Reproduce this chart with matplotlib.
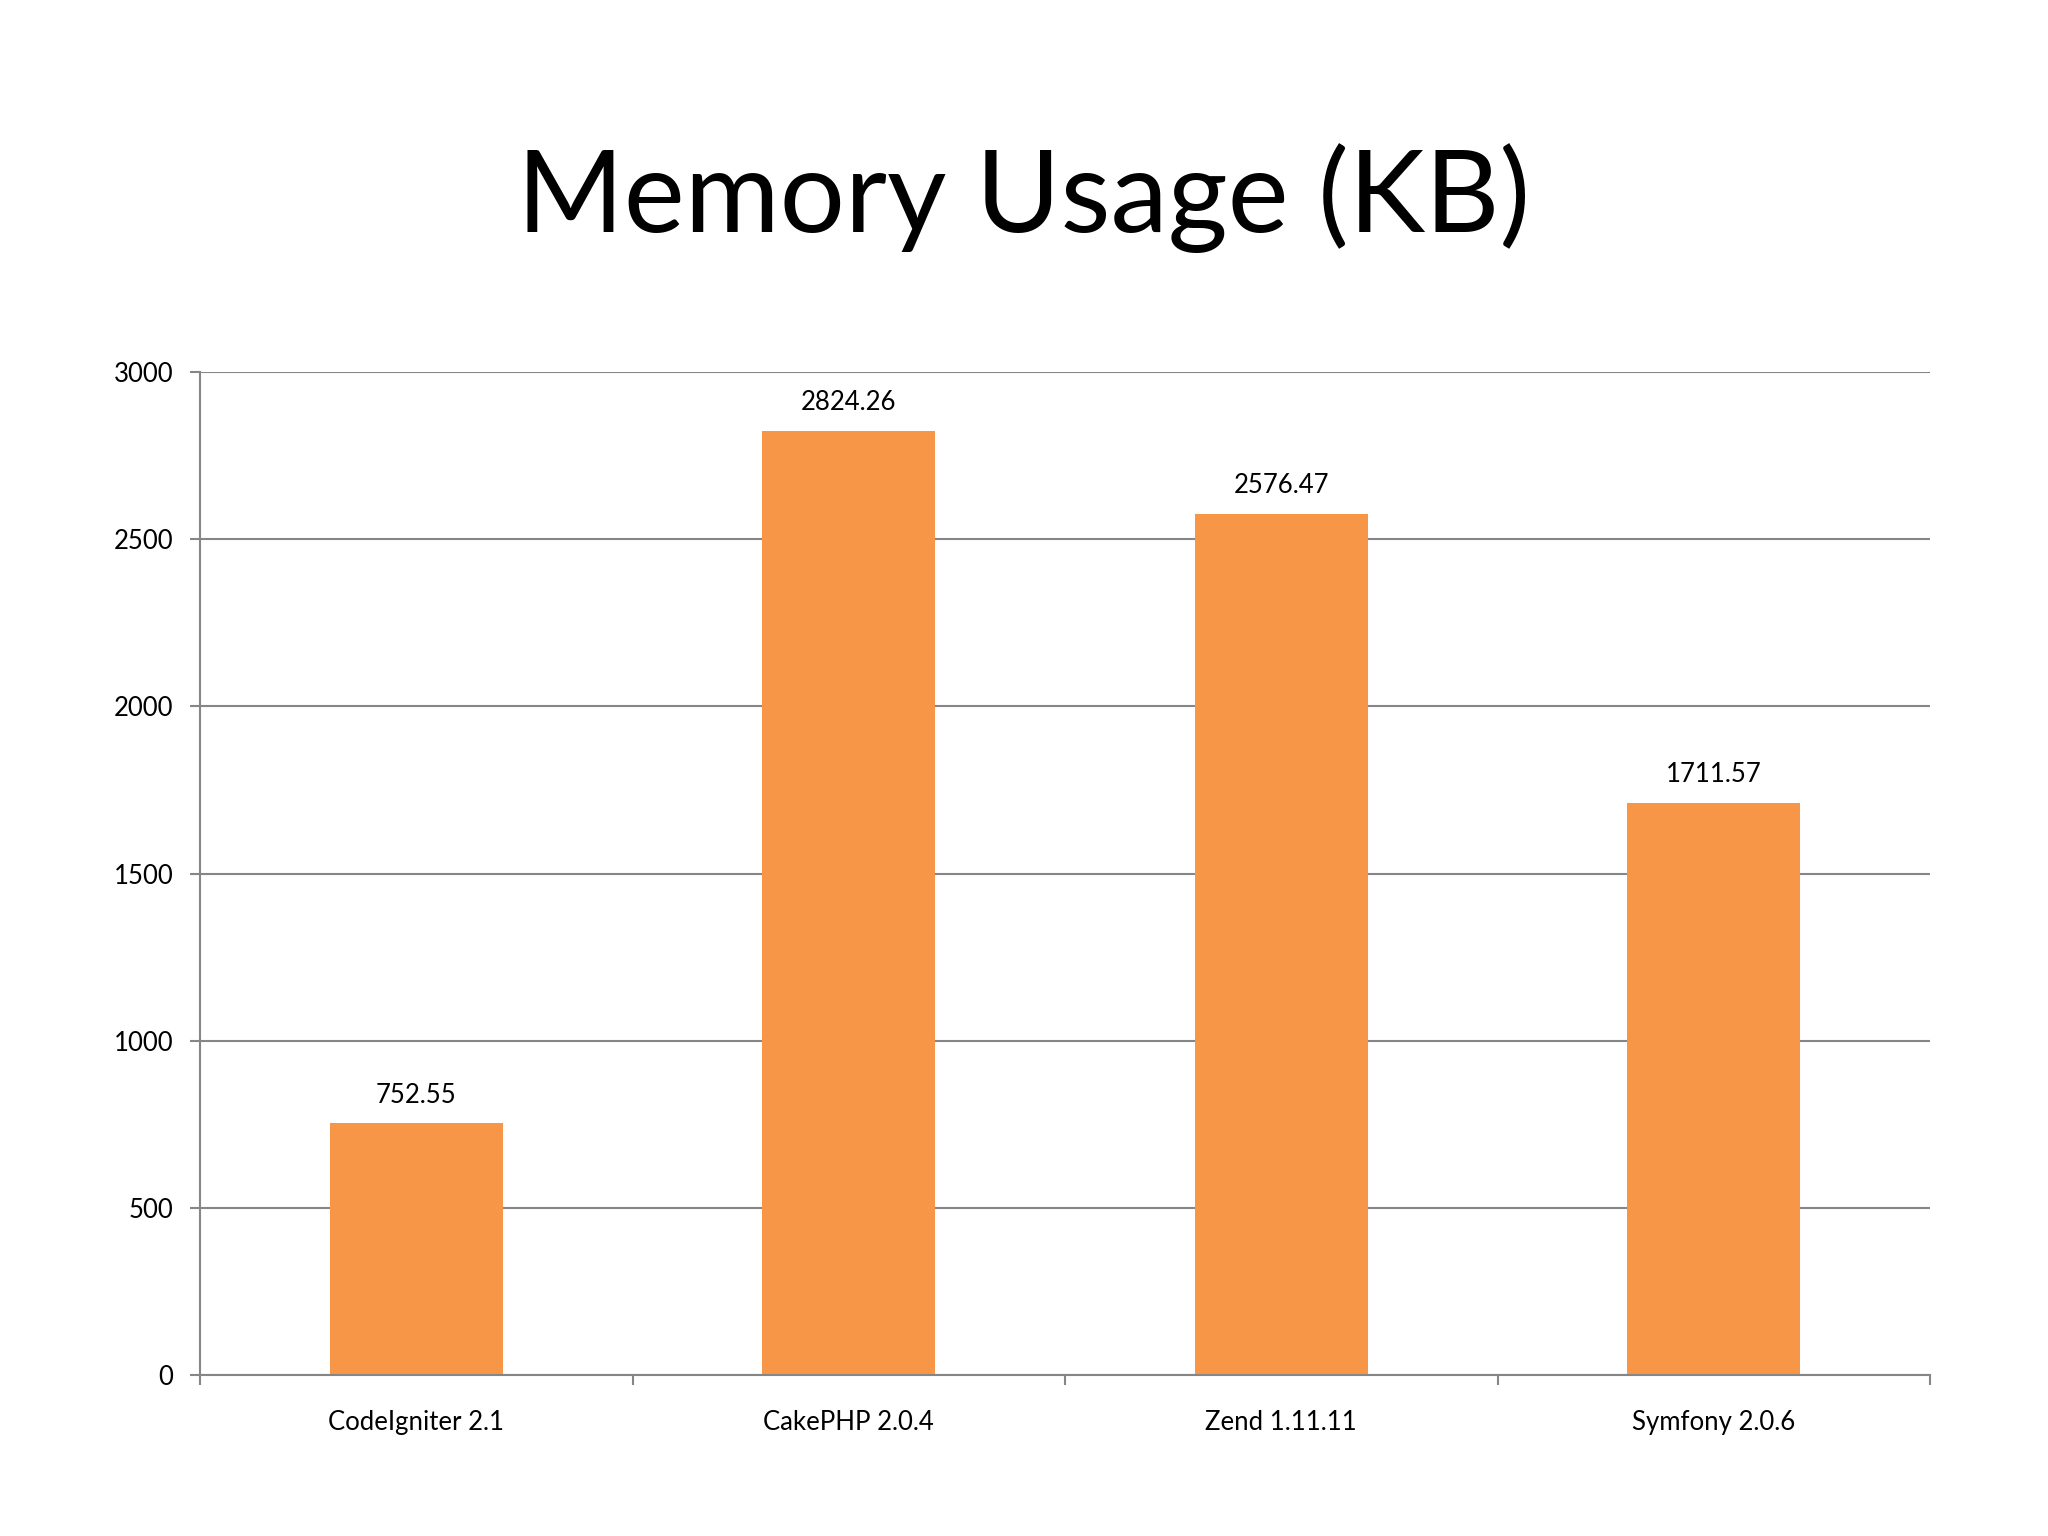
import numpy as np
import matplotlib
matplotlib.use('Agg')
import matplotlib.pyplot as plt

plt.rcParams['font.family'] = ['Lato', 'DejaVu Sans']

frameworks = ['CodeIgniter 2.1', 'CakePHP 2.0.4', 'Zend 1.11.11', 'Symfony 2.0.6']
memory_kb = [752.55, 2824.26, 2576.47, 1711.57]
value_labels = ['752.55', '2824.26', '2576.47', '1711.57']
y_ticks = [0, 500, 1000, 1500, 2000, 2500, 3000]

grid_col = '#868686'
bar_col = '#F79646'

fig = plt.figure(figsize=(20.48, 15.36), dpi=100)
ax = fig.add_axes([200/2048, 1 - 1375/1536, 1730/2048, (1375 - 372)/1536])

x = np.arange(len(frameworks))
bars = ax.bar(x, memory_kb, width=0.4, color=bar_col, zorder=3)

# value labels above each bar
for b, lab in zip(bars, value_labels):
    ax.annotate(lab, (b.get_x() + b.get_width()/2, b.get_height()),
                xytext=(0, 20), textcoords='offset points',
                ha='center', va='center', fontsize=18.5, color='black')

ax.set_xlim(-0.5, len(frameworks) - 0.5)
ax.set_ylim(0, 3000)
ax.set_yticks(y_ticks)
ax.set_yticklabels([str(t) for t in y_ticks], fontsize=18.5)

# category labels in the middle, tick marks on the boundaries
ax.set_xticks(x)
ax.set_xticklabels(frameworks, fontsize=18.5)
ax.tick_params(axis='x', which='major', length=0, pad=25)
ax.set_xticks(np.arange(-0.5, len(frameworks)), minor=True)
ax.tick_params(axis='x', which='minor', length=7, width=1.5, color=grid_col)
ax.tick_params(axis='y', length=7, width=1.5, color=grid_col, pad=12)

ax.yaxis.grid(True, color=grid_col, linewidth=1.5, zorder=0)
for s in ['top', 'right']:
    ax.spines[s].set_visible(False)
for s in ['left', 'bottom']:
    ax.spines[s].set_color(grid_col)
    ax.spines[s].set_linewidth(1.5)
    ax.spines[s].set_zorder(4)

fig.text(0.5, 1 - 198/1536, 'Memory Usage (KB)', ha='center', va='center',
         fontsize=83, color='black')

plt.savefig('out.png', dpi=100)
